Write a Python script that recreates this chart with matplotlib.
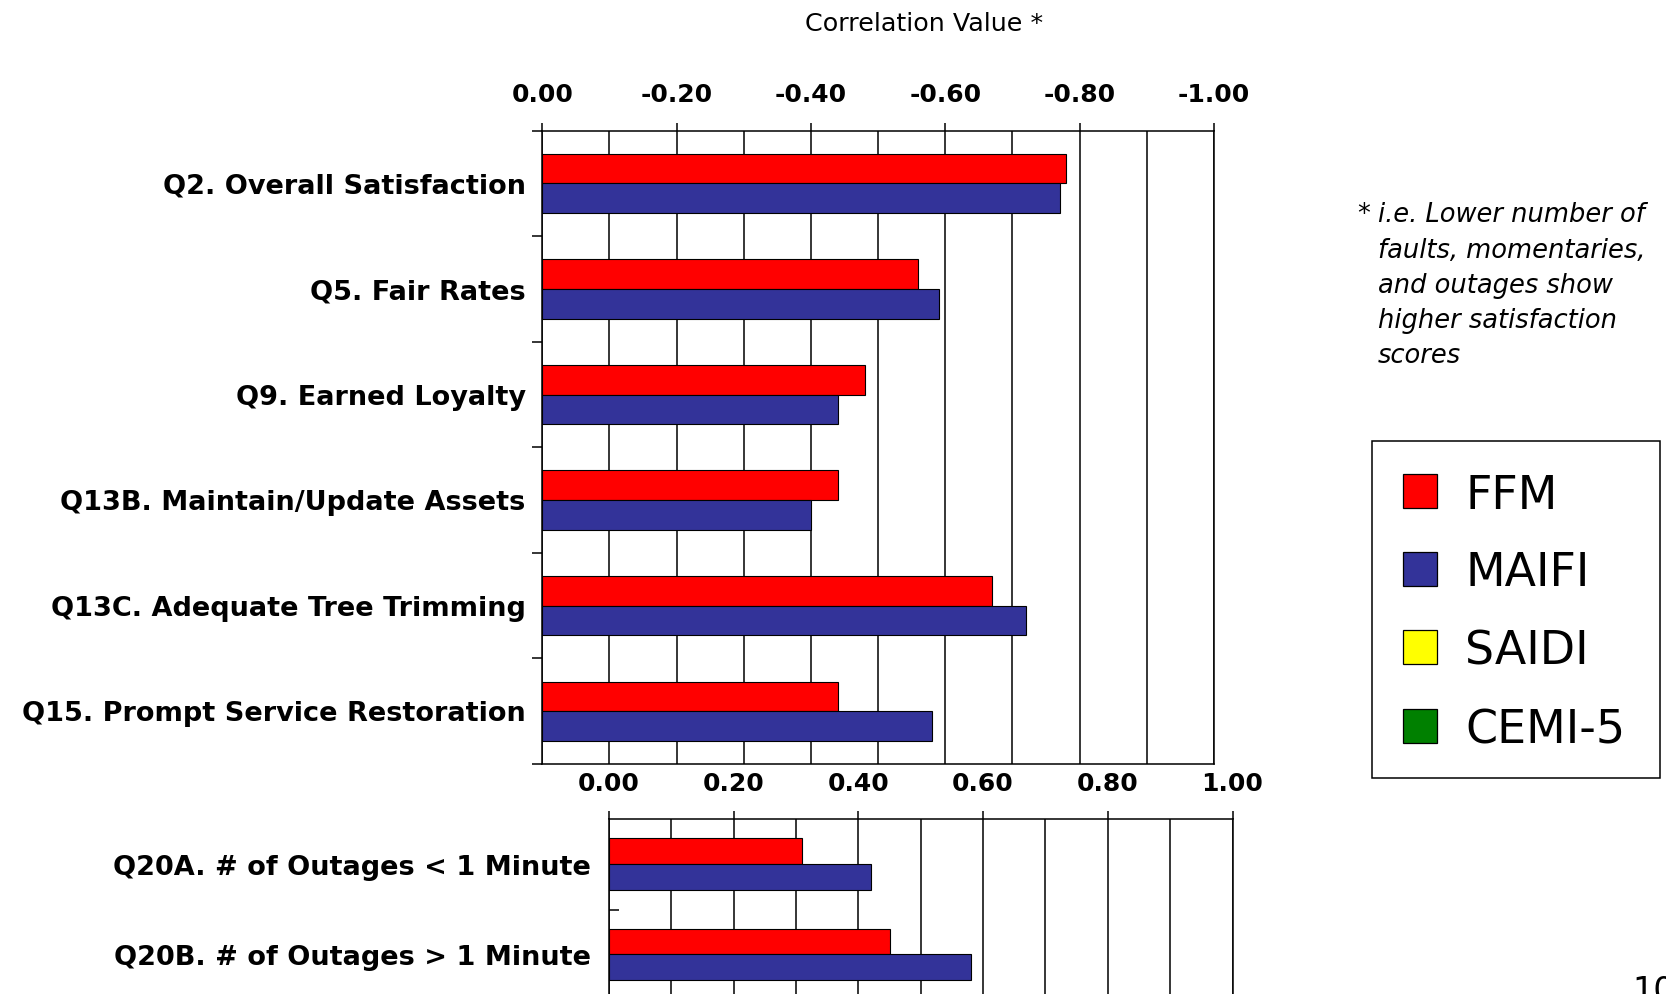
import matplotlib
matplotlib.use("Agg")
import matplotlib.pyplot as plt
from matplotlib.patches import Rectangle
import numpy as np

# ---- data -------------------------------------------------------------
main_questions = [
    "Q2. Overall Satisfaction",
    "Q5. Fair Rates",
    "Q9. Earned Loyalty",
    "Q13B. Maintain/Update Assets",
    "Q13C. Adequate Tree Trimming",
    "Q15. Prompt Service Restoration",
]
main_ffm = [0.78, 0.56, 0.48, 0.44, 0.67, 0.44]
main_maifi = [0.77, 0.59, 0.44, 0.40, 0.72, 0.58]

outage_questions = [
    "Q20A. # of Outages < 1 Minute",
    "Q20B. # of Outages > 1 Minute",
]
outage_ffm = [0.31, 0.45]
outage_maifi = [0.42, 0.58]

series_names = ["FFM", "MAIFI", "SAIDI", "CEMI-5"]
series_colors = ["#FF0000", "#333399", "#FFFF00", "#008000"]

tick_values = [0.0, 0.2, 0.4, 0.6, 0.8, 1.0]
top_tick_labels = ["0.00", "-0.20", "-0.40", "-0.60", "-0.80", "-1.00"]
lower_tick_labels = ["0.00", "0.20", "0.40", "0.60", "0.80", "1.00"]

axis_title = "Correlation Value *"
note_lines = [
    "i.e. Lower number of",
    "faults, momentaries,",
    "and outages show",
    "higher satisfaction",
    "scores",
]
page_number = "10"

# ---- figure -----------------------------------------------------------
W, H, DPI = 1666, 994, 100
plt.rcParams["font.family"] = ["DejaVu Sans"]
fig = plt.figure(figsize=(W / DPI, H / DPI), dpi=DPI)
fig.patch.set_facecolor("white")

LW = 1.1
BOLD = dict(family="DejaVu Sans", weight="bold")


def px_axes(left, top, right, bottom):
    return fig.add_axes([left / W, 1 - bottom / H, (right - left) / W, (bottom - top) / H])


def fx(x):
    return x / W


def fy(y):
    return 1 - y / H


def draw_panel(ax, questions, ffm, maifi, tick_labels, bar_h, center, label_pad,
               outer_ticks=True):
    n = len(questions)
    pos = np.arange(n)
    ax.barh(pos + center - bar_h, ffm, height=bar_h, align="edge",
            color=series_colors[0], edgecolor="black", linewidth=0.8, zorder=3)
    ax.barh(pos + center, maifi, height=bar_h, align="edge",
            color=series_colors[1], edgecolor="black", linewidth=0.8, zorder=3)
    ax.set_xlim(0, 1)
    ax.set_ylim(n, 0)

    # value axis on top, gridline every 0.1
    ax.xaxis.tick_top()
    ax.set_xticks(tick_values)
    ax.set_xticklabels(tick_labels, fontsize=18, **BOLD)
    ax.set_xticks(np.arange(0, 1.001, 0.1), minor=True)
    ax.tick_params(axis="x", which="major", direction="out", length=5.8,
                   width=LW, pad=11, top=True, bottom=False)
    ax.tick_params(axis="x", which="minor", length=0, top=False, bottom=False)
    ax.grid(True, axis="x", which="both", color="black", linewidth=LW)
    ax.set_axisbelow(True)

    # category separators and labels
    if outer_ticks:
        ax.set_yticks(np.arange(0, n + 1))
        ax.tick_params(axis="y", which="major", direction="out", length=7.2,
                       width=LW, labelleft=False)
    else:
        ax.set_yticks(np.arange(1, n))
        ax.tick_params(axis="y", which="major", direction="in", length=7.2,
                       width=LW, labelleft=False)
    ax.set_yticks(pos + 0.5, minor=True)
    ax.set_yticklabels(questions, minor=True, fontsize=19.5, **BOLD)
    ax.tick_params(axis="y", which="minor", length=0, pad=label_pad)

    for s in ax.spines.values():
        s.set_linewidth(LW)
        s.set_color("black")


ax_main = px_axes(542.3, 130.7, 1214.0, 764.0)
draw_panel(ax_main, main_questions, main_ffm, main_maifi, top_tick_labels,
           bar_h=0.281, center=0.5, label_pad=12)

ax_low = px_axes(609.0, 819.3, 1232.5, 1000.7)
draw_panel(ax_low, outage_questions, outage_ffm, outage_maifi, lower_tick_labels,
           bar_h=0.285, center=0.49, label_pad=13, outer_ticks=False)

# axis title
fig.text(fx(924), fy(31), axis_title, fontsize=18.3, ha="center", va="baseline")

# footnote
note_x, note_y0, note_dy = 1378, 222.5, 35.2
fig.text(fx(1357), fy(note_y0), "*", fontsize=18.5, ha="left", va="baseline")
for i, line in enumerate(note_lines):
    fig.text(fx(note_x), fy(note_y0 + i * note_dy), line, fontsize=18.5,
             style="italic", ha="left", va="baseline")

# legend box
fig.add_artist(Rectangle((fx(1372), fy(777.5)), (1660 - 1372) / W, (777.5 - 441) / H,
                         transform=fig.transFigure, facecolor="white",
                         edgecolor="black", linewidth=LW))
row_y = [491, 569, 647, 726]
for name, color, yc in zip(series_names, series_colors, row_y):
    fig.add_artist(Rectangle((fx(1403.3), fy(yc + 17)), 34 / W, 34 / H,
                             transform=fig.transFigure, facecolor=color,
                             edgecolor="black", linewidth=0.9))
    fig.text(fx(1465), fy(yc), name, fontsize=33, ha="left", va="center_baseline")

# page number
fig.text(fx(1632), fy(1001), page_number, fontsize=24, ha="left", va="baseline")

fig.savefig("out.png", dpi=DPI)
